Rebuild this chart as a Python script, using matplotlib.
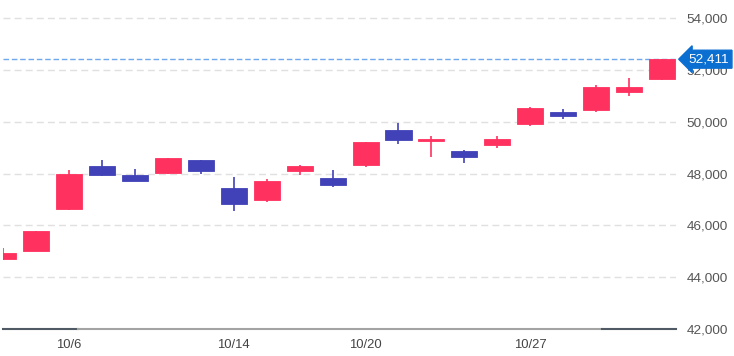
import matplotlib
matplotlib.use("Agg")
import matplotlib.pyplot as plt
import numpy as np

dates = ['10/2', '10/3', '10/6', '10/7', '10/8', '10/9', '10/10', '10/14', '10/15', '10/16',
         '10/17', '10/20', '10/21', '10/22', '10/23', '10/24', '10/27', '10/28', '10/29',
         '10/30', '10/31']
opens = [44690, 45026, 46622, 48294, 47935, 48012, 48515, 47460, 46981, 48085,
         47831, 48321, 49685, 49249, 48874, 49082, 49905, 50380, 50434, 51130, 51632]
highs = [45127, 45790, 48140, 48526, 48174, 48600, 48530, 47858, 47769, 48333,
         48117, 49210, 49944, 49453, 48890, 49430, 50550, 50485, 51424, 51671, 52430]
lows = [44650, 45010, 46583, 47908, 47700, 47985, 47962, 46544, 46904, 47935,
        47483, 48256, 49133, 48619, 48410, 48967, 49840, 50110, 50369, 50987, 51620]
closes = [44949, 45772, 47962, 47935, 47715, 48592, 48078, 46826, 47692, 48294,
          47560, 49198, 49299, 49326, 48630, 49314, 50535, 50214, 51335, 51346, 52411]
xtick_labels = ['10/6', '10/14', '10/20', '10/27']
ytick_values = [42000, 44000, 46000, 48000, 50000, 52000, 54000]

UP = '#ff315f'
DOWN = '#4242b8'

plt.rcParams['font.family'] = ['Liberation Sans', 'DejaVu Sans']

W, H = 734, 356
fig = plt.figure(figsize=(W / 100, H / 100), dpi=100)
ax = fig.add_axes([3 / W, (H - 329) / H, (676 - 3) / W, 329 / H])

x = np.arange(len(dates))
o = np.array(opens); c = np.array(closes)
hi = np.array(highs); lo = np.array(lows)
up = c >= o
cols = np.where(up, UP, DOWN)
bottoms = np.minimum(o, c)
heights = np.maximum(np.abs(c - o), 25)

ax.vlines(x, lo, hi, colors=cols, linewidth=1.2, zorder=3)
ax.bar(x, heights, bottom=bottoms, width=0.79, color=cols, edgecolor=cols,
       linewidth=0.6, zorder=4)

ax.set_xlim(0, 20.42)
ax.set_ylim(42000, 54695)

for v in ytick_values[1:]:
    ax.axhline(v, color='#e0e0e0', linewidth=1, linestyle=(0, (5, 3)), zorder=1)

# bottom axis line
ax.axhline(42000, xmin=0, xmax=0.111, color='#505a64', linewidth=1.5, zorder=5, clip_on=False)
ax.axhline(42000, xmin=0.111, xmax=0.89, color='#a3a3a3', linewidth=1.5, zorder=5, clip_on=False)
ax.axhline(42000, xmin=0.89, xmax=1, color='#505a64', linewidth=1.5, zorder=5, clip_on=False)

# last price line
last = closes[-1]
ax.axhline(last, color='#6fa8ec', linewidth=1, linestyle=(0, (4, 2)), zorder=2)

for s in ax.spines.values():
    s.set_visible(False)

ax.yaxis.tick_right()
ax.set_yticks(ytick_values)
ax.set_yticklabels([f'{v:,}' for v in ytick_values])
ax.tick_params(axis='y', length=0, pad=7.7, labelsize=9.7, labelcolor='#555555')

ax.set_xticks([dates.index(d) for d in xtick_labels])
ax.set_xticklabels(xtick_labels)
ax.tick_params(axis='x', length=0, pad=7, labelsize=9.4, labelcolor='#444444')

ax.annotate(f'{last:,}', xy=(1, last), xycoords=('axes fraction', 'data'),
            xytext=(9, 0), textcoords='offset points', ha='left', va='center',
            color='white', fontsize=9.7, zorder=10, annotation_clip=False,
            bbox=dict(boxstyle='larrow,pad=0.22', fc='#0b6fd2', ec='#0b6fd2'))

fig.savefig('out.png', dpi=100)
